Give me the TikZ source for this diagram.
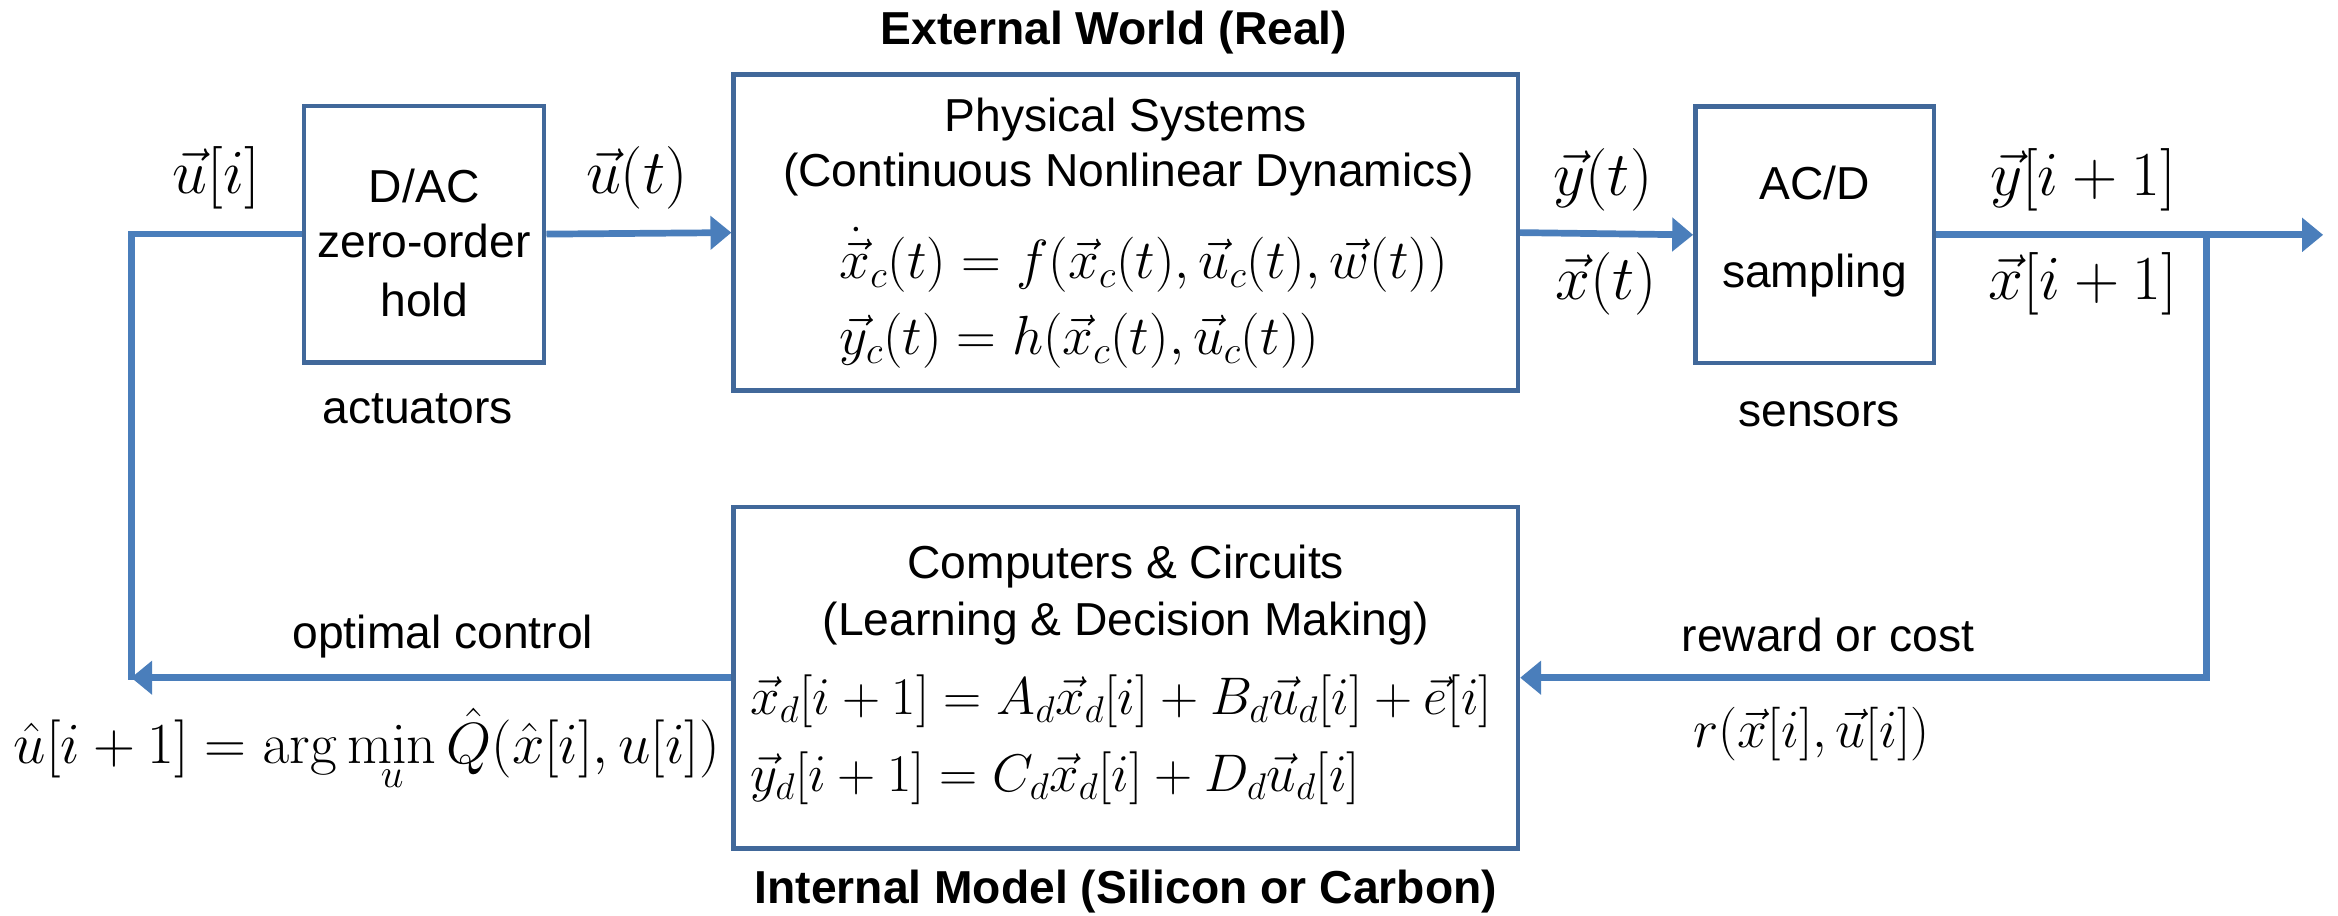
\RequirePackage{fix-cm}
\documentclass[tikz,border=0pt]{standalone}
\usepackage{amsmath}
\usepackage[no-math]{fontspec}
\newfontfamily\arial{Liberation Sans}
\usetikzlibrary{arrows.meta}
\definecolor{boxblue}{HTML}{41689A}
\definecolor{arrblue}{HTML}{4A7EBB}
\newcommand{\txtfont}{\arial\fontsize{31}{38}\selectfont}
\newcommand{\boldtxt}{\arial\bfseries\fontsize{31}{38}\selectfont}
\tikzset{
  blk/.style={draw=boxblue, line width=3pt, inner sep=0pt},
  ln/.style={draw=arrblue, line width=4.5pt},
  arr/.style={ln, -{Triangle[length=14pt,width=22pt]}},
  txt/.style={font=\txtfont, inner sep=0pt, anchor=base},
  hdr/.style={font=\boldtxt, inner sep=0pt, anchor=base},
  mlbl/.style={font=\fontsize{42}{48}\selectfont, inner sep=0pt, anchor=base},
  meq/.style={font=\fontsize{37}{42}\selectfont, inner sep=0pt, anchor=base west},
  mdeq/.style={font=\fontsize{35.5}{40}\selectfont, inner sep=0pt, anchor=base west},
  mlow/.style={font=\fontsize{36}{42}\selectfont, inner sep=0pt, anchor=base},
  mq/.style={font=\fontsize{39}{44}\selectfont, inner sep=0pt, anchor=base},
}
\begin{document}
\begin{tikzpicture}[x=1pt, y=-1pt]
\useasboundingbox (0,0) rectangle (1568,614);

% boxes
\node[blk, minimum width=161pt, minimum height=172pt] (dac) at (284.5,157) {};
\node[blk, minimum width=526pt, minimum height=212pt] (phys) at (755,156) {};
\node[blk, minimum width=160pt, minimum height=172pt] (adc) at (1217,157.5) {};
\node[blk, minimum width=526pt, minimum height=229pt] (comp) at (755,454.5) {};

% headings
\node[hdr] (ext) at (747,30) {External World (Real)};
\node[hdr] (int) at (755,606) {Internal Model (Silicon or Carbon)};

% DAC text
\node[txt] (dac1) at (284.5,136) {D/AC};
\node[txt] (dac2) at (284.5,173) {zero-order};
\node[txt] (dac3) at (284.5,212) {hold};
\node[txt] (act) at (280,284) {actuators};

% ADC text
\node[txt] (adc1) at (1217,134) {AC/D};
\node[txt] (adc2) at (1217,193) {sampling};
\node[txt] (sen) at (1220,286) {sensors};

% physical box text
\node[txt] (ph1) at (755,88) {Physical Systems};
\node[txt] (ph2) at (757,125) {(Continuous Nonlinear Dynamics)};
\node[meq] (pe1) at (563,187) {$\dot{\vec{x}}_c(t) = f(\vec{x}_c(t),\vec{u}_c(t),\vec{w}(t))$};
\node[meq] (pe2) at (563,238) {$\vec{y}_c(t) = h(\vec{x}_c(t),\vec{u}_c(t))$};

% computer box text
\node[txt] (cp1) at (755,388) {Computers \& Circuits};
\node[txt] (cp2) at (755,426) {(Learning \& Decision Making)};
\node[mdeq] (ce1) at (503,479) {$\vec{x}_d[i+1] = A_d\vec{x}_d[i] + B_d\vec{u}_d[i] + \vec{e}[i]$};
\node[mdeq] (ce2) at (503,531) {$\vec{y}_d[i+1] = C_d\vec{x}_d[i] + D_d\vec{u}_d[i]$};

% connectors
\coordinate (cl) at (88,456);
\coordinate (out) at (1558,155);
\coordinate (br) at (1480,155);
\draw[arr] (comp.west) -- (comp.west -| cl);
\draw[ln] (cl) |- (dac.west);
\draw[arr] (dac.east) -- (phys.west);
\draw[arr] (phys.east) -- (adc.west);
\draw[arr] (adc.east) -- (adc.east -| out);
\draw[arr] (adc.east -| br) |- (comp.east);

% labels
\node[mlbl] (lui) at (145,130) {$\vec{u}[i]$};
\node[mlbl] (lut) at (427,130) {$\vec{u}(t)$};
\node[mlbl] (lyt) at (1075,131) {$\vec{y}(t)$};
\node[mlbl] (lxt) at (1077,201) {$\vec{x}(t)$};
\node[mlbl] (lyi) at (1397,131) {$\vec{y}[i+1]$};
\node[mlbl] (lxi) at (1397,201) {$\vec{x}[i+1]$};
\node[txt] (opt) at (297,435) {optimal control};
\node[txt] (rew) at (1226,437) {reward or cost};
\node[mlow] (rfun) at (1215,501) {$r(\vec{x}[i],\vec{u}[i])$};
\node[mq] (qfun) at (246,512) {$\displaystyle \hat{u}[i+1] = \arg\min_u \hat{Q}(\hat{x}[i],u[i])$};
\end{tikzpicture}
\end{document}
